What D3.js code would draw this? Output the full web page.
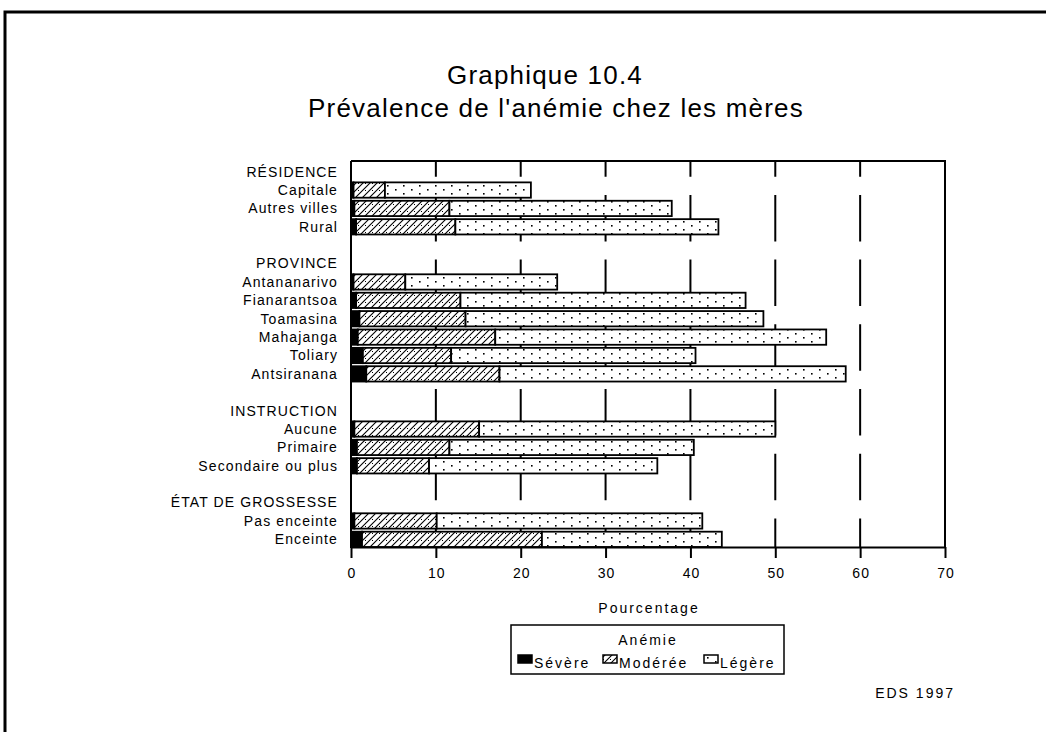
<!DOCTYPE html>
<html><head><meta charset="utf-8">
<script src="https://cdn.jsdelivr.net/npm/d3@7"></script>
<style>
body{margin:0;background:#fff}
svg{display:block}
text{font-family:Arial,"Liberation Sans",sans-serif;fill:#000}
</style>
</head><body>
<svg id="c" width="1046" height="732"></svg>
<script>
// ---- data ----
const groups = ["RÉSIDENCE", "PROVINCE", "INSTRUCTION", "ÉTAT DE GROSSESSE"];
const groupSizes = [3, 6, 3, 2];
const categories = ["Capitale", "Autres villes", "Rural",
  "Antananarivo", "Fianarantsoa", "Toamasina", "Mahajanga", "Toliary", "Antsiranana",
  "Aucune", "Primaire", "Secondaire ou plus",
  "Pas enceinte", "Enceinte"];
const severe   = [0.3, 0.4, 0.6, 0.3, 0.6, 1.0, 0.8, 1.4, 1.8, 0.4, 0.7, 0.7, 0.4, 1.3];
const moderate = [3.7, 11.2, 11.7, 6.1, 12.3, 12.5, 16.2, 10.4, 15.7, 14.7, 10.9, 8.5, 9.7, 21.2];
const legere   = [17.2, 26.2, 31.0, 17.9, 33.6, 35.1, 39.0, 28.8, 40.8, 34.9, 28.8, 26.9, 31.3, 21.2];
const xTicks = [0, 10, 20, 30, 40, 50, 60, 70];
const seriesNames = ["Sévère", "Modérée", "Légère"];
const titleLines = ["Graphique 10.4", "Prévalence de l'anémie chez les mères"];
const xTitle = "Pourcentage";
const legendTitle = "Anémie";
const source = "EDS 1997";

// ---- layout ----
const svg = d3.select("#c");
const L = 351, R = 945, T = 161, B = 547;

// slots (headers, categories, blank gaps)
const slots = [];
let ci = 0;
groups.forEach((g, gi) => {
  slots.push({key: "h" + gi, label: g, header: true});
  for (let k = 0; k < groupSizes[gi]; k++) {
    slots.push({key: "c" + ci, label: categories[ci], idx: ci});
    ci++;
  }
  if (gi < groups.length - 1) slots.push({key: "g" + gi, label: "", gap: true});
});

const x = d3.scaleLinear().domain([0, 70]).range([L, R]);
const y = d3.scaleBand().domain(slots.map(d => d.key)).range([164, B]).paddingInner(0.167).paddingOuter(0);

// ---- patterns ----
const defs = svg.append("defs");
const pm = defs.append("pattern").attr("id", "pMod").attr("patternUnits", "userSpaceOnUse")
  .attr("width", 7).attr("height", 7);
pm.append("rect").attr("width", 7).attr("height", 7).attr("fill", "#fff");
pm.append("path").attr("d", "M0,7 L7,0 M-2,2 L2,-2 M5,9 L9,5").attr("stroke", "#000").attr("stroke-width", 1.1);
pm.append("rect").attr("x", 1).attr("y", 1).attr("width", 1).attr("height", 1).attr("fill", "#000");

const pl = defs.append("pattern").attr("id", "pLeg").attr("patternUnits", "userSpaceOnUse")
  .attr("width", 16).attr("height", 8);
pl.append("rect").attr("width", 16).attr("height", 8).attr("fill", "#fff");
pl.append("rect").attr("x", 3).attr("y", 1).attr("width", 1.6).attr("height", 1.6).attr("fill", "#000");
pl.append("rect").attr("x", 11).attr("y", 5).attr("width", 1.6).attr("height", 1.6).attr("fill", "#000");

const fills = ["#000", "url(#pMod)", "url(#pLeg)"];

// ---- outer frame ----
svg.append("rect").attr("x", 5).attr("y", 12).attr("width", 1100).attr("height", 800)
  .attr("fill", "none").attr("stroke", "#000").attr("stroke-width", 3);

// ---- title ----
svg.append("text").attr("x", 545).attr("y", 84).attr("text-anchor", "middle")
  .attr("font-size", 26).attr("letter-spacing", 1.2).text(titleLines[0]);
svg.append("text").attr("x", 556).attr("y", 117).attr("text-anchor", "middle")
  .attr("font-size", 26).attr("letter-spacing", 1.2).text(titleLines[1]);

// ---- gridlines ----
svg.append("g").selectAll("line").data(xTicks.filter(t => t > 0 && t < 70)).join("line")
  .attr("x1", d => x(d)).attr("x2", d => x(d)).attr("y1", T).attr("y2", B)
  .attr("stroke", "#000").attr("stroke-width", 2)
  .attr("stroke-dasharray", "46.5 18.2").attr("stroke-dashoffset", 30.8);

// plot border top/right
svg.append("path").attr("d", `M${L},${T} H${R} V${B}`).attr("fill", "none")
  .attr("stroke", "#000").attr("stroke-width", 2);

// ---- bars ----
const barData = slots.filter(d => d.idx !== undefined);
const gBars = svg.append("g");
barData.forEach(d => {
  const vals = [severe[d.idx], moderate[d.idx], legere[d.idx]];
  let acc = 0;
  vals.forEach((v, s) => {
    gBars.append("rect")
      .attr("x", x(acc)).attr("y", y(d.key))
      .attr("width", x(acc + v) - x(acc)).attr("height", y.bandwidth())
      .attr("fill", fills[s]).attr("stroke", "#000").attr("stroke-width", 1.8);
    acc += v;
  });
});

// ---- category labels ----
svg.append("g").selectAll("text").data(slots.filter(d => !d.gap)).join("text")
  .attr("x", 338).attr("y", d => y(d.key) + y.bandwidth() / 2)
  .attr("dy", "0.35em").attr("text-anchor", "end").attr("font-size", 14)
  .attr("letter-spacing", 1.1)
  .text(d => d.label);

// ---- axes ----
svg.append("line").attr("x1", L).attr("x2", L).attr("y1", T).attr("y2", B + 1)
  .attr("stroke", "#000").attr("stroke-width", 2);
const ax = svg.append("g").attr("transform", `translate(0,${B})`)
  .call(d3.axisBottom(x).tickValues(xTicks).tickSize(11).tickSizeOuter(0).tickPadding(10));
ax.select(".domain").attr("stroke-width", 2);
ax.selectAll(".tick line").attr("stroke-width", 2);
ax.selectAll(".tick text").attr("font-size", 14).attr("letter-spacing", 1)
  .attr("dx", 0.5)
  .attr("font-family", "Arial, 'Liberation Sans', sans-serif");

svg.append("text").attr("x", (L + R) / 2 + 1).attr("y", 613).attr("text-anchor", "middle")
  .attr("font-size", 14).attr("letter-spacing", 2).text(xTitle);

// ---- legend ----
const lg = svg.append("g");
lg.append("rect").attr("x", 511).attr("y", 625).attr("width", 273).attr("height", 49)
  .attr("fill", "#fff").attr("stroke", "#000").attr("stroke-width", 1.5);
lg.append("text").attr("x", 648).attr("y", 645).attr("text-anchor", "middle")
  .attr("font-size", 14).attr("letter-spacing", 2).text(legendTitle);
const itemX = [518, 603, 704];
seriesNames.forEach((n, i) => {
  lg.append("rect").attr("x", itemX[i]).attr("y", 655).attr("width", 14).attr("height", 8)
    .attr("fill", fills[i]).attr("stroke", "#000").attr("stroke-width", 1.5);
  lg.append("text").attr("x", itemX[i] + 16).attr("y", 668).attr("font-size", 14)
    .attr("letter-spacing", 2).text(n);
});

// ---- source ----
svg.append("text").attr("x", 955).attr("y", 698).attr("text-anchor", "end")
  .attr("font-size", 14).attr("letter-spacing", 2).text(source);
</script>
</body></html>
